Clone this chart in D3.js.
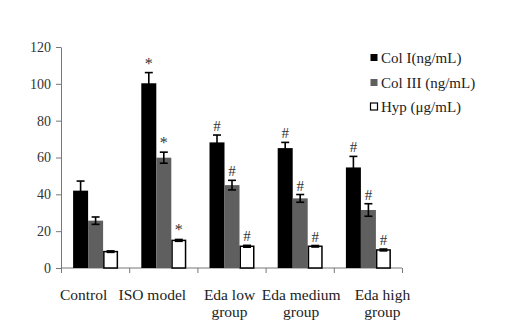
<!DOCTYPE html>
<html><head><meta charset="utf-8">
<script src="https://cdn.jsdelivr.net/npm/d3@7"></script>
<style>body{margin:0;background:#fff;}svg{display:block;font-family:"Liberation Serif","Times New Roman",serif;}</style>
</head><body>
<svg id="c" width="507" height="328"></svg>
<script>
const categories = [["Control"],["ISO model"],["Eda low","group"],["Eda medium","group"],["Eda high","group"]];
const seriesNames = ["Col I(ng/mL)","Col III (ng/mL)","Hyp (\u03bcg/mL)"];
const colI = [42, 100.3, 68.2, 65.1, 54.6];
const colIErr = [5.2, 5.8, 4, 3.1, 6];
const colIII = [25.7, 59.9, 45, 37.8, 31.5];
const colIIIErr = [2, 3, 2.6, 2.1, 3.4];
const hyp = [8.9, 15, 11.8, 11.8, 9.8];
const hypErr = [0.4, 0.5, 0.5, 0.4, 0.5];
const marks = [["","",""],["*","*","*"],["#","#","#"],["#","#","#"],["#","#","#"]];
const yTicks = [0,20,40,60,80,100,120];

const svg = d3.select("#c");
const mLeft = 61, mRight = 402, mTop = 47, mBottom = 268;
const x = d3.scaleBand().domain(categories.map((d,i)=>i)).range([mLeft,mRight]).paddingInner(0).paddingOuter(0);
const y = d3.scaleLinear().domain([0,120]).range([mBottom,mTop]);
const series = [
  {vals: colI, errs: colIErr, fill: "#000"},
  {vals: colIII, errs: colIIIErr, fill: "#5f5f5f"},
  {vals: hyp, errs: hypErr, fill: "#fff"}
];
const bw = 15;
const inner = d3.scaleBand().domain([0,1,2]).range([0, bw*3]);
const groupOff = (x.bandwidth() - bw*3)/2 + 0.5;

// axes
const yAxis = d3.axisLeft(y).tickValues(yTicks).tickSize(5).tickSizeOuter(0);
const gy = svg.append("g").attr("transform",`translate(${mLeft},0)`).call(yAxis);
gy.select(".domain").attr("stroke","#777");
gy.selectAll(".tick line").attr("stroke","#777");
gy.selectAll(".tick text").attr("font-size",14).attr("fill","#333").attr("x",-10).attr("font-family","Liberation Serif, serif");

const xAxis = d3.axisBottom(d3.scaleLinear().domain([0,5]).range([mLeft,mRight])).tickValues([0,1,2,3,4,5]).tickSize(5).tickFormat("");
const gx = svg.append("g").attr("transform",`translate(0,${mBottom})`).call(xAxis);
gx.select(".domain").attr("stroke","#777").attr("d",`M${mLeft},0H${mRight}`);
gx.selectAll(".tick line").attr("stroke","#777");

// bars
series.forEach((s,si)=>{
  const g = svg.append("g");
  s.vals.forEach((v,ci)=>{
    const bx = x(ci) + groupOff + inner(si);
    g.append("rect").attr("x",bx + (si===2?0.75:0)).attr("y",y(v)).attr("width",bw - (si===2?1.5:0)).attr("height",y(0)-y(v))
      .attr("fill",s.fill).attr("stroke",si===2?"#000":"none").attr("stroke-width",1.5);
    const cx = bx + bw/2;
    const e = s.errs[ci];
    const eg = svg.append("g").attr("stroke","#000").attr("stroke-width",1.6);
    eg.append("line").attr("x1",cx).attr("x2",cx).attr("y1",y(v+e)).attr("y2",y(v-e));
    eg.append("line").attr("x1",cx-4).attr("x2",cx+4).attr("y1",y(v+e)).attr("y2",y(v+e));
    eg.append("line").attr("x1",cx-4).attr("x2",cx+4).attr("y1",y(v-e)).attr("y2",y(v-e));
    const m = marks[ci][si];
    if(m){
      svg.append("text").attr("x",cx).attr("y",y(v+e)-(m==="*"?4:4)).attr("text-anchor","middle")
        .attr("font-size",m==="*"?16:15).attr("fill","#333").text(m);
    }
  });
});

// x labels (Excel-style wrapped label placement)
const labelDx = [-11.5,-11,-2,1.5,14.5];
categories.forEach((c,ci)=>{
  const cx = x(ci)+x.bandwidth()/2 + labelDx[ci];
  const t = svg.append("text").attr("x", cx).attr("y",300).attr("text-anchor","middle")
    .attr("font-size",15.5).attr("fill","#222");
  c.forEach((line,li)=>{
    t.append("tspan").attr("x", cx).attr("dy", li===0?0:17).text(line);
  });
});

// legend
const ly = [58, 83, 107];
seriesNames.forEach((n,i)=>{
  svg.append("rect").attr("x",370.5).attr("y",ly[i]-4).attr("width",7).attr("height",7)
    .attr("fill",series[i].fill).attr("stroke",i===2?"#000":"none").attr("stroke-width",1.2);
  svg.append("text").attr("x",381).attr("y",ly[i]+5).attr("font-size",15).attr("fill","#222").text(n);
});
</script>
</body></html>
